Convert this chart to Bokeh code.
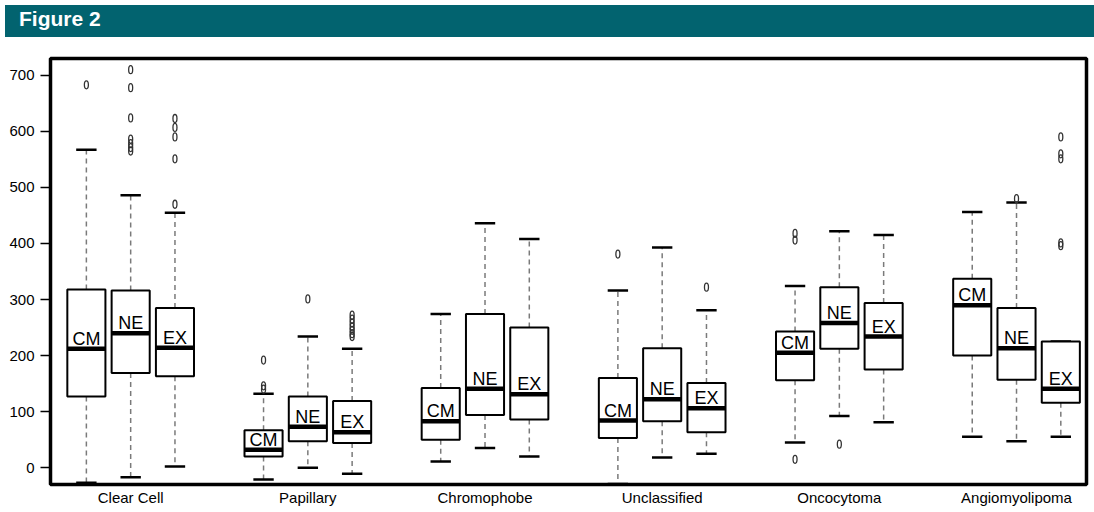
from bokeh.plotting import figure
from bokeh.models import Div, FixedTicker, Range1d
from bokeh.layouts import column
from bokeh.core.properties import value
from bokeh.embed import file_html
from bokeh.resources import INLINE

categories = ["Clear Cell", "Papillary", "Chromophobe", "Unclassified", "Oncocytoma", "Angiomyolipoma"]
methods = ["CM", "NE", "EX"]

# box statistics, ordered category by category, CM / NE / EX inside each
lower_whisker = [-27, -17, 2,   -21, 0, -11,   11, 35, 20,   -29, 18, 25,   45, 92, 81,   55, 47, 55]
q1            = [127, 169, 163,  20, 47, 44,   50, 94, 86,    53, 83, 63,  156, 212, 175, 200, 157, 116]
median        = [212, 240, 214,  32, 73, 63,   83, 141, 131,  84, 122, 106, 205, 258, 234, 290, 213, 141]
q3            = [318, 316, 285,  67, 127, 119, 142, 274, 250, 160, 213, 151, 243, 322, 294, 337, 285, 225]
upper_whisker = [567, 486, 455, 132, 234, 212, 274, 436, 408, 316, 393, 281, 324, 422, 415, 456, 473, 225]
outliers = [
    [683], [710, 678, 624, 586, 578, 571, 565], [623, 607, 590, 551, 470],
    [192, 146, 140], [301], [272, 265, 258, 251, 245, 239, 234],
    [], [], [],
    [381], [], [322],
    [418, 406, 15], [42], [],
    [], [480], [590, 560, 551, 401, 396],
]
y_ticks = [0, 100, 200, 300, 400, 500, 600, 700]

FONT = "Liberation Sans"
n_m = len(methods)
pos = [1 + (n_m + 1) * ci + mi for ci in range(len(categories)) for mi in range(n_m)]
labels = [methods[mi] for ci in range(len(categories)) for mi in range(n_m)]
bw = 0.43
cw = 0.23

p = figure(width=1093, height=466, output_backend="svg", toolbar_location=None,
           x_range=Range1d(0.19, 23.58), y_range=Range1d(-30, 730),
           min_border_left=50, min_border_right=7, min_border_top=16, min_border_bottom=20)
p.background_fill_color = "white"
p.border_fill_color = "white"
p.outline_line_color = "black"
p.outline_line_width = 3.5
p.xgrid.visible = False
p.ygrid.visible = False

# whiskers
p.segment(x0=pos, y0=q3, x1=pos, y1=upper_whisker, line_color="#7a7a7a", line_width=1.5, line_dash="5 4")
p.segment(x0=pos, y0=q1, x1=pos, y1=lower_whisker, line_color="#7a7a7a", line_width=1.5, line_dash="5 4")
# caps
p.segment(x0=[x - cw for x in pos], y0=upper_whisker, x1=[x + cw for x in pos], y1=upper_whisker,
          line_color="black", line_width=2.5)
p.segment(x0=[x - cw for x in pos], y0=lower_whisker, x1=[x + cw for x in pos], y1=lower_whisker,
          line_color="black", line_width=2.5)
# boxes
p.quad(left=[x - bw for x in pos], right=[x + bw for x in pos], bottom=q1, top=q3,
       fill_color="white", line_color="black", line_width=2)
# medians
p.segment(x0=[x - bw for x in pos], y0=median, x1=[x + bw for x in pos], y1=median,
          line_color="black", line_width=4.5)
# labels
p.text(x=pos, y=median, text=labels, text_align="center", text_baseline="alphabetic", y_offset=-10,
       text_font=value(FONT), text_font_size="18px", text_color="black")
# outliers
ox, oy = [], []
for x, outs in zip(pos, outliers):
    for v in outs:
        ox.append(x)
        oy.append(v)
p.ellipse(x=ox, y=oy, width=4, height=8, width_units="screen", height_units="screen",
          fill_color=None, line_color="#333333", line_width=1.3)

# axes
p.xaxis.ticker = FixedTicker(ticks=[pos[ci * n_m + 1] for ci in range(len(categories))])
p.xaxis.major_label_overrides = {pos[ci * n_m + 1]: c for ci, c in enumerate(categories)}
p.xaxis.major_tick_line_color = None
p.xaxis.major_tick_out = 0
p.xaxis.major_tick_in = 0
p.xaxis.minor_tick_line_color = None
p.xaxis.minor_tick_out = 0
p.xaxis.axis_line_color = None
p.xaxis.major_label_standoff = 4
p.xaxis.major_label_text_font = FONT
p.xaxis.major_label_text_font_size = "15px"
p.xaxis.major_label_text_color = "black"

p.yaxis.ticker = FixedTicker(ticks=y_ticks)
p.yaxis.axis_line_color = None
p.yaxis.minor_tick_line_color = None
p.yaxis.major_tick_in = 0
p.yaxis.major_tick_out = 10
p.yaxis.major_tick_line_width = 1.5
p.yaxis.major_tick_line_color = "black"
p.yaxis.major_label_standoff = 6
p.yaxis.major_label_text_font = FONT
p.yaxis.major_label_text_font_size = "15px"
p.yaxis.major_label_text_color = "black"

header = Div(text="Figure 2", width=1090, height=32,
             styles={"background-color": "#02636f", "color": "white", "font-family": FONT,
                     "font-weight": "bold", "font-size": "21px", "line-height": "27px",
                     "padding-left": "14px", "box-sizing": "border-box"})

layout = column(header, p, spacing=0)
open("out.html", "w").write(file_html(layout, INLINE))
